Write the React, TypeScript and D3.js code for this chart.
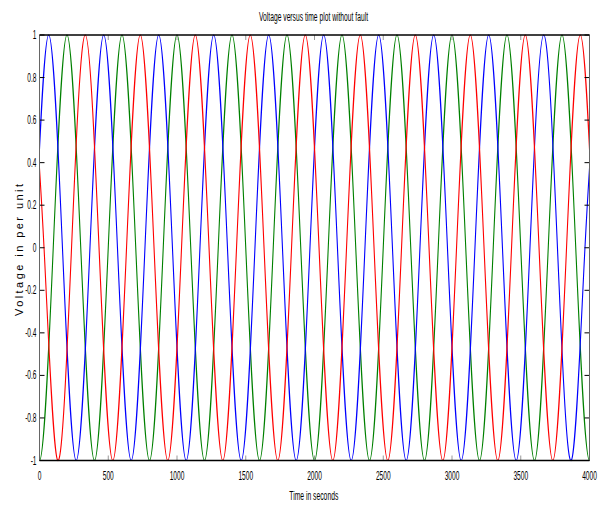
import { useEffect, useRef } from 'react';
import * as d3 from 'd3';

// phase voltages, read at the peaks, troughs and zero crossings [time, per unit]
// (first and last points sit just outside the window, the plot is clipped to 0..4000)
const bluePhase: [number, number][] = [
  [-33, 0], [67, 1], [167, 0], [267, -1], [367, 0], [467, 1], [567, 0], [667, -1], [767, 0],
  [867, 1], [967, 0], [1067, -1], [1167, 0], [1267, 1], [1367, 0], [1467, -1], [1567, 0],
  [1667, 1], [1767, 0], [1867, -1], [1967, 0], [2067, 1], [2167, 0], [2267, -1], [2367, 0],
  [2467, 1], [2567, 0], [2667, -1], [2767, 0], [2867, 1], [2967, 0], [3067, -1], [3167, 0],
  [3267, 1], [3367, 0], [3467, -1], [3567, 0], [3667, 1], [3767, 0], [3867, -1], [3967, 0],
  [4067, 1],
];
const greenPhase: [number, number][] = [
  [-100, 0], [0, -1], [100, 0], [200, 1], [300, 0], [400, -1], [500, 0], [600, 1], [700, 0],
  [800, -1], [900, 0], [1000, 1], [1100, 0], [1200, -1], [1300, 0], [1400, 1], [1500, 0],
  [1600, -1], [1700, 0], [1800, 1], [1900, 0], [2000, -1], [2100, 0], [2200, 1], [2300, 0],
  [2400, -1], [2500, 0], [2600, 1], [2700, 0], [2800, -1], [2900, 0], [3000, 1], [3100, 0],
  [3200, -1], [3300, 0], [3400, 1], [3500, 0], [3600, -1], [3700, 0], [3800, 1], [3900, 0],
  [4000, -1], [4100, 0],
];
const redPhase: [number, number][] = [
  [-67, 1], [33, 0], [133, -1], [233, 0], [333, 1], [433, 0], [533, -1], [633, 0], [733, 1],
  [833, 0], [933, -1], [1033, 0], [1133, 1], [1233, 0], [1333, -1], [1433, 0], [1533, 1],
  [1633, 0], [1733, -1], [1833, 0], [1933, 1], [2033, 0], [2133, -1], [2233, 0], [2333, 1],
  [2433, 0], [2533, -1], [2633, 0], [2733, 1], [2833, 0], [2933, -1], [3033, 0], [3133, 1],
  [3233, 0], [3333, -1], [3433, 0], [3533, 1], [3633, 0], [3733, -1], [3833, 0], [3933, 1],
  [4033, 0],
];

const xTicks = [0, 500, 1000, 1500, 2000, 2500, 3000, 3500, 4000];
const yTicks = [-1, -0.8, -0.6, -0.4, -0.2, 0, 0.2, 0.4, 0.6, 0.8, 1];

const chartTitle = 'Voltage versus time plot without fault';
const xTitle = 'Time in seconds';
const yTitle = 'Voltage in per unit';

function App() {
  const svgRef = useRef<SVGSVGElement | null>(null);

  useEffect(() => {
    if (!svgRef.current) return;
    const svg = d3.select(svgRef.current);
    svg.selectAll('*').remove();

    const width = 610;
    const height = 506;
    const left = 39.5, right = 589.5, top = 35, bottom = 460.5;

    const x = d3.scaleLinear().domain([0, 4000]).range([left, right]);
    const y = d3.scaleLinear().domain([-1, 1]).range([bottom, top]);

    svg.append('rect').attr('width', width).attr('height', height).attr('fill', 'white');

    svg.append('defs').append('clipPath').attr('id', 'plot-clip')
      .append('rect')
      .attr('x', left).attr('y', top - 1)
      .attr('width', right - left).attr('height', bottom - top + 2);

    const line = d3.line<[number, number]>()
      .x((d) => x(d[0]))
      .y((d) => y(d[1]))
      .curve(d3.curveNatural);

    const g = svg.append('g').attr('clip-path', 'url(#plot-clip)');
    [
      { data: greenPhase, color: '#008000' },
      { data: bluePhase, color: '#0000ff' },
      { data: redPhase, color: '#ff0000' },
    ].forEach((s) => {
      g.append('path')
        .datum(s.data)
        .attr('d', line)
        .attr('fill', 'none')
        .attr('stroke', s.color)
        .attr('stroke-width', 1.1);
    });

    // inside ticks, matlab style
    xTicks.forEach((t) => {
      svg.append('line')
        .attr('x1', x(t)).attr('x2', x(t))
        .attr('y1', bottom).attr('y2', bottom - 5)
        .attr('stroke', '#999').attr('stroke-width', 1);
      svg.append('line')
        .attr('x1', x(t)).attr('x2', x(t))
        .attr('y1', top).attr('y2', top + 5)
        .attr('stroke', '#999').attr('stroke-width', 1);
    });
    yTicks.forEach((t) => {
      svg.append('line')
        .attr('x1', left).attr('x2', left + 5)
        .attr('y1', y(t)).attr('y2', y(t))
        .attr('stroke', '#000').attr('stroke-width', 1);
      svg.append('line')
        .attr('x1', right).attr('x2', right - 5)
        .attr('y1', y(t)).attr('y2', y(t))
        .attr('stroke', '#000').attr('stroke-width', 1);
    });

    // box
    svg.append('line').attr('x1', left).attr('x2', left).attr('y1', top).attr('y2', bottom)
      .attr('stroke', '#666').attr('stroke-width', 1);
    svg.append('line').attr('x1', right).attr('x2', right).attr('y1', top).attr('y2', bottom)
      .attr('stroke', '#666').attr('stroke-width', 1);
    svg.append('line').attr('x1', left).attr('x2', right).attr('y1', top).attr('y2', top)
      .attr('stroke', '#000').attr('stroke-width', 1.6);
    svg.append('line').attr('x1', left).attr('x2', right).attr('y1', bottom).attr('y2', bottom)
      .attr('stroke', '#000').attr('stroke-width', 1.6);

    const font = 'Liberation Sans, Arial, sans-serif';
    const squeezed = (px: number, py: number, txt: string, anchor: string, size: number, sx: number) => {
      svg.append('text')
        .attr('transform', `translate(${px},${py}) scale(${sx},1)`)
        .attr('text-anchor', anchor)
        .attr('font-family', font)
        .attr('font-size', size)
        .attr('fill', '#000')
        .text(txt);
    };

    xTicks.forEach((t) => squeezed(x(t), 479.5, String(t), 'middle', 12, 0.55));
    yTicks.forEach((t) => squeezed(left - 3, y(t) + 4, String(t), 'end', 12, 0.55));

    svg.append('text')
      .attr('x', 313.5).attr('y', 21)
      .attr('text-anchor', 'middle')
      .attr('font-family', font).attr('font-size', 12)
      .attr('textLength', 109).attr('lengthAdjust', 'spacingAndGlyphs')
      .text(chartTitle);

    svg.append('text')
      .attr('x', 313.8).attr('y', 500)
      .attr('text-anchor', 'middle')
      .attr('font-family', font).attr('font-size', 12)
      .attr('textLength', 49).attr('lengthAdjust', 'spacingAndGlyphs')
      .text(xTitle);

    svg.append('text')
      .attr('transform', 'translate(23,250) rotate(-90)')
      .attr('text-anchor', 'middle')
      .attr('font-family', font).attr('font-size', 11)
      .attr('textLength', 132).attr('lengthAdjust', 'spacing')
      .text(yTitle);

    return () => {
      d3.select(svgRef.current).selectAll('*').remove();
    };
  }, []);

  return (
    <svg
      ref={svgRef}
      width={610}
      height={506}
      style={{ position: 'absolute', left: 0, top: 0, display: 'block' }}
    ></svg>
  );
}

export default App;
